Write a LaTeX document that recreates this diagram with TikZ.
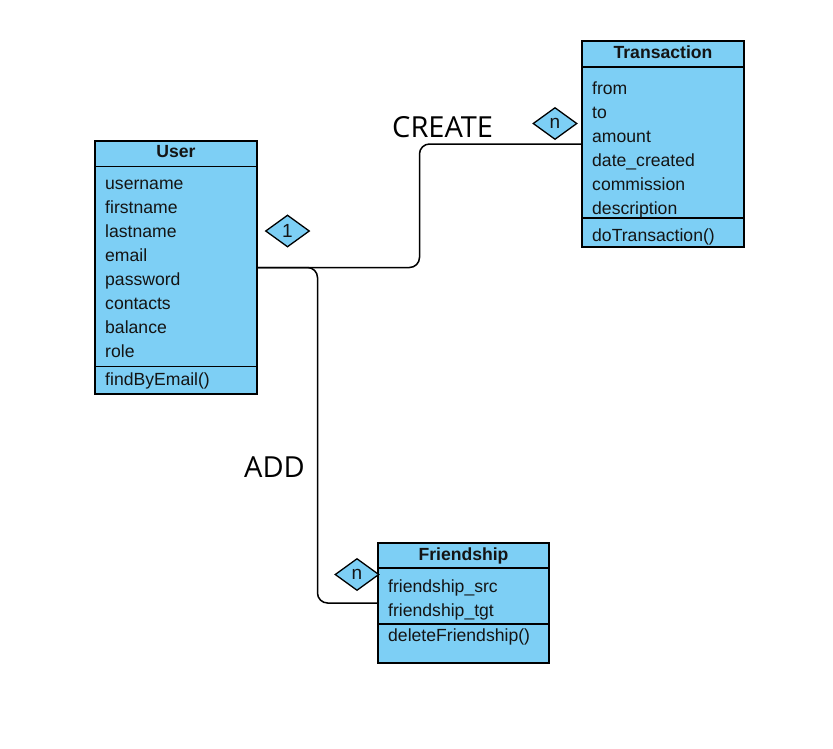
\documentclass[tikz,border=0pt]{standalone}
\usepackage{fontspec}
\setmainfont{Liberation Sans}
\newfontfamily\labelfont{Open Sans}
\usetikzlibrary{shapes.geometric}
\definecolor{boxfill}{RGB}{125,207,245}
\definecolor{txt}{RGB}{20,20,20}
\begin{document}
\begin{tikzpicture}[x=1pt,y=-1pt,
  classbox/.style={draw=black, fill=boxfill, line width=1.3pt, inner sep=0pt},
  sep/.style={draw=black, line width=1.3pt},
  title/.style={font=\fontsize{17.6}{20}\selectfont\bfseries, text=txt, anchor=base, inner sep=0pt},
  attr/.style={font=\fontsize{17.6}{20}\selectfont, text=txt, anchor=base west, inner sep=0pt},
  card/.style={diamond, draw=black, fill=boxfill, line width=1.3pt, minimum width=44pt, minimum height=32pt, inner sep=0pt, text=txt, font=\fontsize{19}{20}\selectfont},
  conn/.style={draw=black, line width=1.5pt, rounded corners=10pt},
  rel/.style={font=\labelfont\fontsize{29}{32}\selectfont, text=black, anchor=base west, inner sep=0pt}]

\useasboundingbox (0,0) rectangle (833,748);

% ---------- User ----------
\node[classbox, minimum width=162pt, minimum height=253pt] (user) at (176,267.5) {};
\draw[sep] (95,166.5) -- (257,166.5);
\draw[sep] (95,366.5) -- (257,366.5);
\node[title] (userT) at (176,157) {User};
\node[attr] (u1) at (105,189.3) {username};
\node[attr] (u2) at (105,213.3) {firstname};
\node[attr] (u3) at (105,237.3) {lastname};
\node[attr] (u4) at (105,261.3) {email};
\node[attr] (u5) at (105,285.3) {password};
\node[attr] (u6) at (105,309.3) {contacts};
\node[attr] (u7) at (105,333.3) {balance};
\node[attr] (u8) at (105,357.3) {role};
\node[attr] (u9) at (105,385) {findByEmail()};

% ---------- Transaction ----------
\node[classbox, minimum width=162pt, minimum height=206pt] (trans) at (663,144) {};
\draw[sep] (582,67) -- (744,67);
\draw[sep] (582,218) -- (744,218);
\node[title] (transT) at (663,58.5) {Transaction};
\node[attr] (t1) at (592,94) {from};
\node[attr] (t2) at (592,118) {to};
\node[attr] (t3) at (592,142) {amount};
\node[attr] (t4) at (592,166) {date\_created};
\node[attr] (t5) at (592,190) {commission};
\node[attr] (t6) at (592,214) {description};
\node[attr] (t7) at (592,241) {doTransaction()};

% ---------- Friendship ----------
\node[classbox, minimum width=171pt, minimum height=120pt] (friend) at (463.5,603) {};
\draw[sep] (378,568) -- (549,568);
\draw[sep] (378,624) -- (549,624);
\node[title] (friendT) at (463.5,560) {Friendship};
\node[attr] (f1) at (388,592) {friendship\_src};
\node[attr] (f2) at (388,616) {friendship\_tgt};
\node[attr] (f3) at (388,641.5) {deleteFriendship()};

% ---------- connectors ----------
\coordinate (b1) at (419.5,144);
\coordinate (b2) at (317.5,603);
\draw[conn] (user.east) -| (b1) -- (trans.west);
\draw[conn] (user.east) -| (b2) -- (friend.west);

% ---------- cardinalities ----------
\node[card] (c1) at (287.5,231) {1};
\node[card] (c2) at (555,123.5) {n};
\node[card] (c3) at (357,574.5) {n};

% ---------- relation labels ----------
\node[rel] (create) at (392,137.7) {CREATE};
\node[rel] (add) at (244,477.7) {ADD};
\end{tikzpicture}
\end{document}
